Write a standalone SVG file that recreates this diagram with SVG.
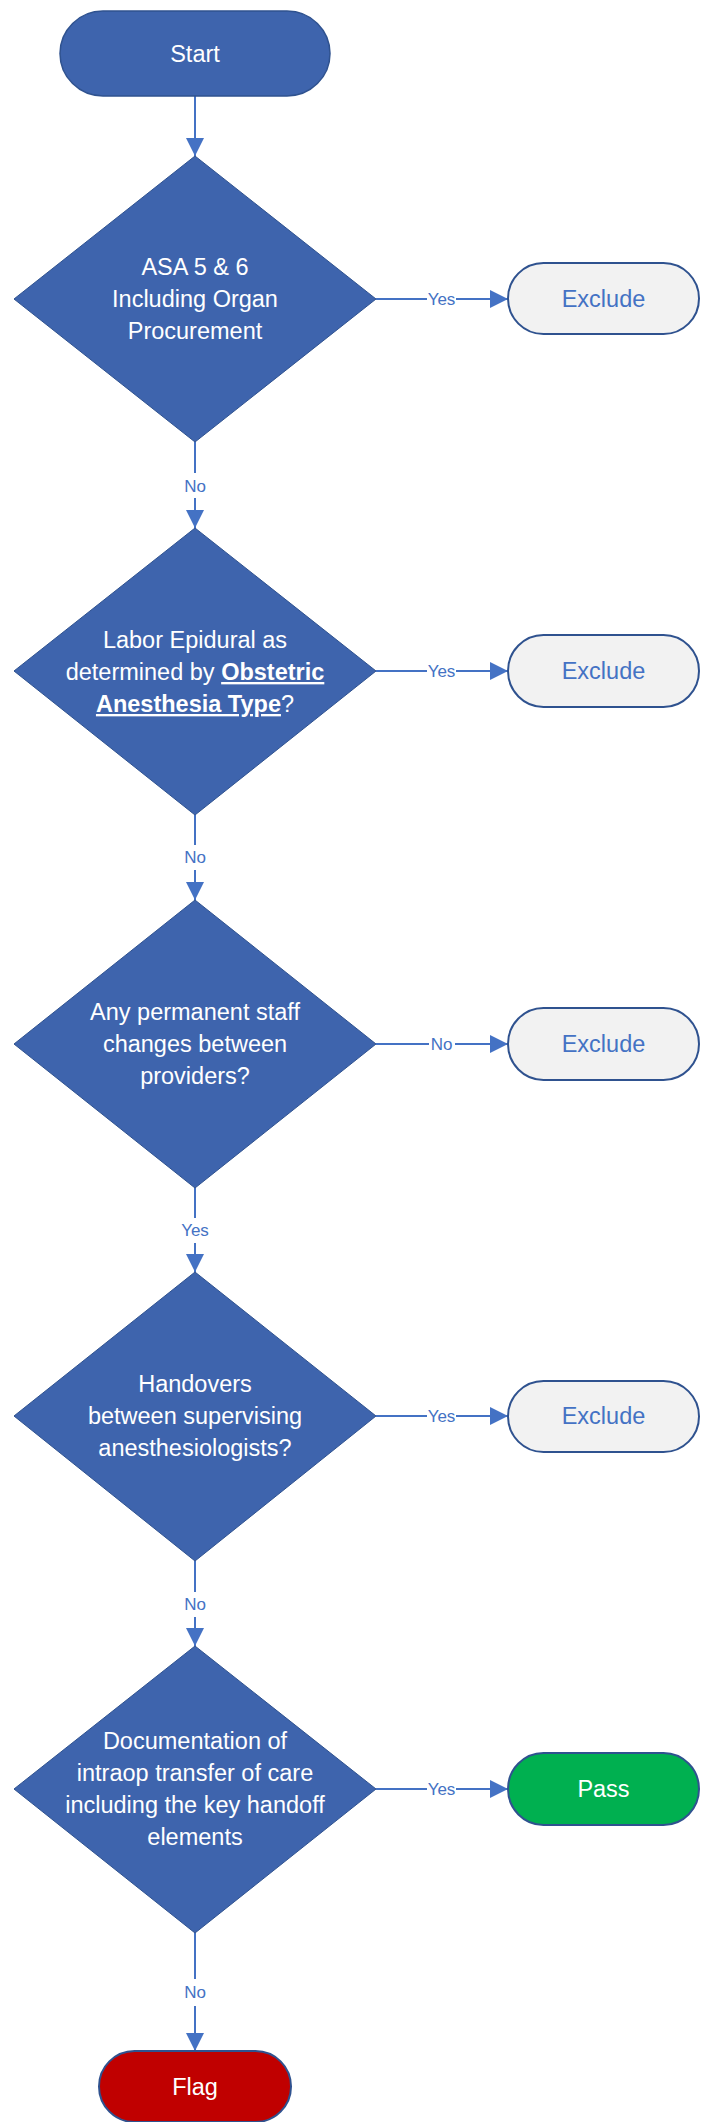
<svg xmlns="http://www.w3.org/2000/svg" width="708" height="2122" viewBox="0 0 708 2122">
<defs>
<marker id="ah" viewBox="0 0 18 18" refX="18" refY="9" markerWidth="18" markerHeight="18" markerUnits="userSpaceOnUse" orient="auto">
<path d="M0,0 L18,9 L0,18 z" fill="#4472C4"/>
</marker>
</defs>
<style>
.dia{fill:#3E64AD;stroke:#2F528F;stroke-width:1}
.term{fill:#3E64AD;stroke:#2F528F;stroke-width:1.5}
.exc{fill:#F2F2F2;stroke:#2F528F;stroke-width:2}
.pass{fill:#00B050;stroke:#2F528F;stroke-width:2}
.flag{fill:#C00000;stroke:#2F528F;stroke-width:2}
.t{font-family:"Liberation Sans",Arial,sans-serif;font-size:23.5px;text-anchor:middle;fill:#FFFFFF}
.te{font-family:"Liberation Sans",Arial,sans-serif;font-size:23.5px;text-anchor:middle;fill:#4472C4}
.lbl{font-family:"Liberation Sans",Arial,sans-serif;font-size:17px;text-anchor:middle;fill:#4472C4}
.c{stroke:#4472C4;stroke-width:2;fill:none;marker-end:url(#ah)}
.bg{fill:#FFFFFF}
.b{font-weight:bold;text-decoration:underline}
</style>
<g id="connectors">
<line class="c" x1="195" y1="96" x2="195" y2="156"/>
<line class="c" x1="376" y1="299" x2="508" y2="299"/>
<line class="c" x1="195" y1="442" x2="195" y2="528"/>
<line class="c" x1="376" y1="671" x2="508" y2="671"/>
<line class="c" x1="195" y1="815" x2="195" y2="900"/>
<line class="c" x1="376" y1="1044" x2="508" y2="1044"/>
<line class="c" x1="195" y1="1188" x2="195" y2="1272"/>
<line class="c" x1="376" y1="1416" x2="508" y2="1416"/>
<line class="c" x1="195" y1="1561" x2="195" y2="1646"/>
<line class="c" x1="376" y1="1789" x2="508" y2="1789"/>
<line class="c" x1="195" y1="1933" x2="195" y2="2051"/>
<rect class="bg" x="427" y="290" width="29" height="18"/>
<text class="lbl" x="441.5" y="305">Yes</text>
<rect class="bg" x="182" y="473" width="26" height="25"/>
<text class="lbl" x="195" y="492">No</text>
<rect class="bg" x="427" y="662" width="29" height="18"/>
<text class="lbl" x="441.5" y="677">Yes</text>
<rect class="bg" x="182" y="845" width="26" height="25"/>
<text class="lbl" x="195" y="863">No</text>
<rect class="bg" x="429" y="1035" width="26" height="18"/>
<text class="lbl" x="441.5" y="1050">No</text>
<rect class="bg" x="180" y="1218" width="30" height="25"/>
<text class="lbl" x="195" y="1236">Yes</text>
<rect class="bg" x="427" y="1407" width="29" height="18"/>
<text class="lbl" x="441.5" y="1422">Yes</text>
<rect class="bg" x="182" y="1592" width="26" height="25"/>
<text class="lbl" x="195" y="1610">No</text>
<rect class="bg" x="427" y="1780" width="29" height="18"/>
<text class="lbl" x="441.5" y="1795">Yes</text>
<rect class="bg" x="182" y="1979" width="26" height="27"/>
<text class="lbl" x="195" y="1998">No</text>
</g>
<g id="start">
<rect class="term" x="60" y="11" width="270" height="85" rx="43" ry="42.5"/>
<text class="t" x="195" y="62">Start</text>
</g>
<g id="d1">
<polygon class="dia" points="195,156 376,299 195,442 14,299"/>
<text class="t" x="195" y="275">ASA 5 &amp; 6</text>
<text class="t" x="195" y="307">Including Organ</text>
<text class="t" x="195" y="339">Procurement</text>
</g>
<g id="ex1">
<rect class="exc" x="508" y="263" width="191" height="71" rx="35.5" ry="35.5"/>
<text class="te" x="603.5" y="307">Exclude</text>
</g>
<g id="d2">
<polygon class="dia" points="195,528 376,671 195,815 14,671"/>
<text class="t" x="195" y="648">Labor Epidural as</text>
<text class="t" x="195" y="680">determined by <tspan class="b">Obstetric</tspan></text>
<text class="t" x="195" y="712"><tspan class="b">Anesthesia Type</tspan>?</text>
</g>
<g id="ex2">
<rect class="exc" x="508" y="635" width="191" height="72" rx="35.5" ry="36"/>
<text class="te" x="603.5" y="679">Exclude</text>
</g>
<g id="d3">
<polygon class="dia" points="195,900 376,1044 195,1188 14,1044"/>
<text class="t" x="195" y="1020">Any permanent staff</text>
<text class="t" x="195" y="1052">changes between</text>
<text class="t" x="195" y="1084">providers?</text>
</g>
<g id="ex3">
<rect class="exc" x="508" y="1008" width="191" height="72" rx="35.5" ry="36"/>
<text class="te" x="603.5" y="1052">Exclude</text>
</g>
<g id="d4">
<polygon class="dia" points="195,1272 376,1416 195,1561 14,1416"/>
<text class="t" x="195" y="1392">Handovers</text>
<text class="t" x="195" y="1424">between supervising</text>
<text class="t" x="195" y="1456">anesthesiologists?</text>
</g>
<g id="ex4">
<rect class="exc" x="508" y="1381" width="191" height="71" rx="35.5" ry="35.5"/>
<text class="te" x="603.5" y="1424">Exclude</text>
</g>
<g id="d5">
<polygon class="dia" points="195,1646 376,1789 195,1933 14,1789"/>
<text class="t" x="195" y="1749">Documentation of</text>
<text class="t" x="195" y="1781">intraop transfer of care</text>
<text class="t" x="195" y="1813">including the key handoff</text>
<text class="t" x="195" y="1845">elements</text>
</g>
<g id="pass">
<rect class="pass" x="508" y="1753" width="191" height="72" rx="35.5" ry="36"/>
<text class="t" x="603.5" y="1797">Pass</text>
</g>
<g id="flag">
<rect class="flag" x="99" y="2051" width="192" height="71" rx="35.5" ry="35.5"/>
<text class="t" x="195" y="2095">Flag</text>
</g>
</svg>
